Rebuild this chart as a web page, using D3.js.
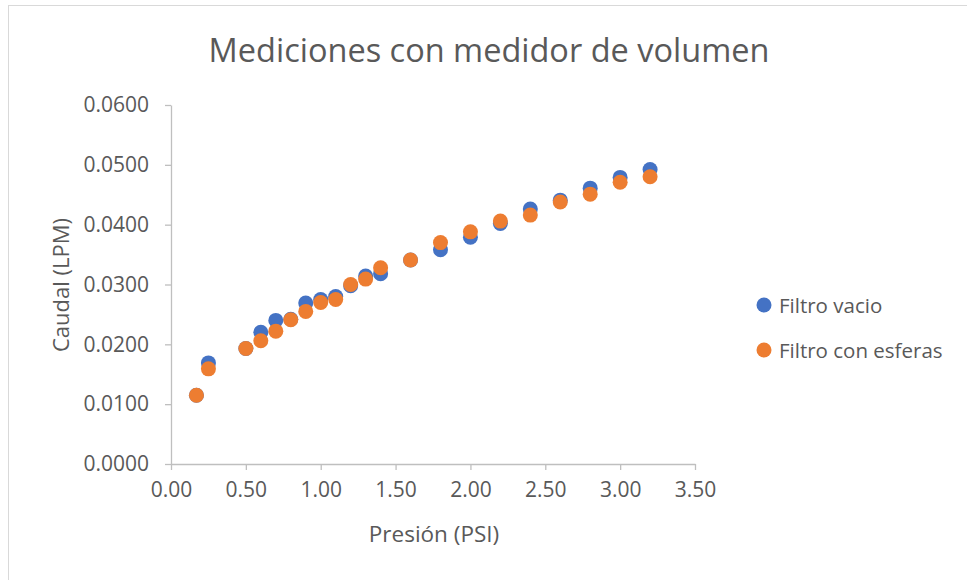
<!DOCTYPE html>
<html>
<head>
<meta charset="utf-8">
<script src="https://cdn.jsdelivr.net/npm/d3@7"></script>
<style>
  body { margin: 0; background: #fff; }
  text { font-family: "Open Sans", sans-serif; fill: #595959; }
</style>
</head>
<body>
<svg id="chart" width="967" height="580"></svg>
<script>
// values
var presion = [0.17, 0.25, 0.5, 0.6, 0.7, 0.8, 0.9, 1.0, 1.1, 1.2, 1.3, 1.4, 1.6, 1.8, 2.0, 2.2, 2.4, 2.6, 2.8, 3.0, 3.2];
var filtroVacio = [0.0115, 0.0169, 0.0193, 0.0220, 0.0240, 0.0242, 0.0269, 0.0275, 0.0280, 0.0298, 0.0314, 0.0318, 0.0341, 0.0358, 0.0379, 0.0402, 0.0426, 0.0441, 0.0461, 0.0479, 0.0492];
var filtroEsferas = [0.0115, 0.0159, 0.0193, 0.0206, 0.0222, 0.0241, 0.0255, 0.0270, 0.0275, 0.0300, 0.0309, 0.0328, 0.0341, 0.0370, 0.0388, 0.0406, 0.0416, 0.0438, 0.0451, 0.0471, 0.0480];
var seriesNames = ["Filtro vacio", "Filtro con esferas"];
var seriesColors = ["#4472C4", "#ED7D31"];
var xTicks = [0, 0.5, 1, 1.5, 2, 2.5, 3, 3.5];
var yTicks = [0, 0.01, 0.02, 0.03, 0.04, 0.05, 0.06];

var svg = d3.select("#chart");

// chart area border (image is cropped on right / bottom)
svg.append("rect")
    .attr("x", 8.5).attr("y", 5.5)
    .attr("width", 1000).attr("height", 600)
    .attr("fill", "none")
    .attr("stroke", "#d9d9d9");

var x = d3.scaleLinear().domain([0, 3.5]).range([171, 695]);
var y = d3.scaleLinear().domain([0, 0.06]).range([464, 105]);

var axisColor = "#bfbfbf";

var xAxis = svg.append("g")
    .attr("transform", "translate(0," + y(0) + ")")
    .call(d3.axisBottom(x).tickValues(xTicks).tickSize(6).tickSizeOuter(0)
      .tickFormat(d3.format(".2f")));
xAxis.select(".domain").attr("stroke", axisColor);
xAxis.selectAll(".tick line").attr("stroke", axisColor);
xAxis.selectAll(".tick text")
    .attr("y", 18)
    .style("font-size", "21px")
    .attr("fill", "#595959");

var yAxis = svg.append("g")
    .attr("transform", "translate(" + x(0) + ",0)")
    .call(d3.axisLeft(y).tickValues(yTicks).tickSize(6).tickSizeOuter(0)
      .tickFormat(d3.format(".4f")));
yAxis.select(".domain").attr("stroke", axisColor);
yAxis.selectAll(".tick line").attr("stroke", axisColor);
yAxis.selectAll(".tick text")
    .attr("x", -22)
    .style("font-size", "21px")
    .attr("fill", "#595959");

svg.selectAll(".domain, .tick line").attr("stroke-width", 1.3);

// title and axis titles
svg.append("text")
    .attr("x", 489).attr("y", 62)
    .attr("text-anchor", "middle")
    .style("font-size", "32.5px")
    .text("Mediciones con medidor de volumen");

svg.append("text")
    .attr("x", 434).attr("y", 542)
    .attr("text-anchor", "middle")
    .style("font-size", "22.5px")
    .text("Presión (PSI)");

svg.append("text")
    .attr("transform", "translate(69,285) rotate(-90)")
    .attr("text-anchor", "middle")
    .style("font-size", "22px")
    .text("Caudal (LPM)");

// points
var allSeries = [filtroVacio, filtroEsferas];
allSeries.forEach(function(vals, i) {
  svg.append("g")
    .selectAll("circle")
      .data(presion.map(function(p, j) { return [p, vals[j]]; }))
      .enter().append("circle")
      .attr("cx", function(d) { return x(d[0]); })
      .attr("cy", function(d) { return y(d[1]); })
      .attr("r", 7.5)
      .attr("fill", seriesColors[i]);
});

// legend
var legend = svg.append("g");
seriesNames.forEach(function(name, i) {
  var ly = 305 + i * 45;
  legend.append("circle")
      .attr("cx", 764).attr("cy", ly)
      .attr("r", 7.5)
      .attr("fill", seriesColors[i]);
  legend.append("text")
      .attr("x", 779).attr("y", ly + 7.5)
      .style("font-size", "20.5px")
      .text(name);
});
</script>
</body>
</html>
